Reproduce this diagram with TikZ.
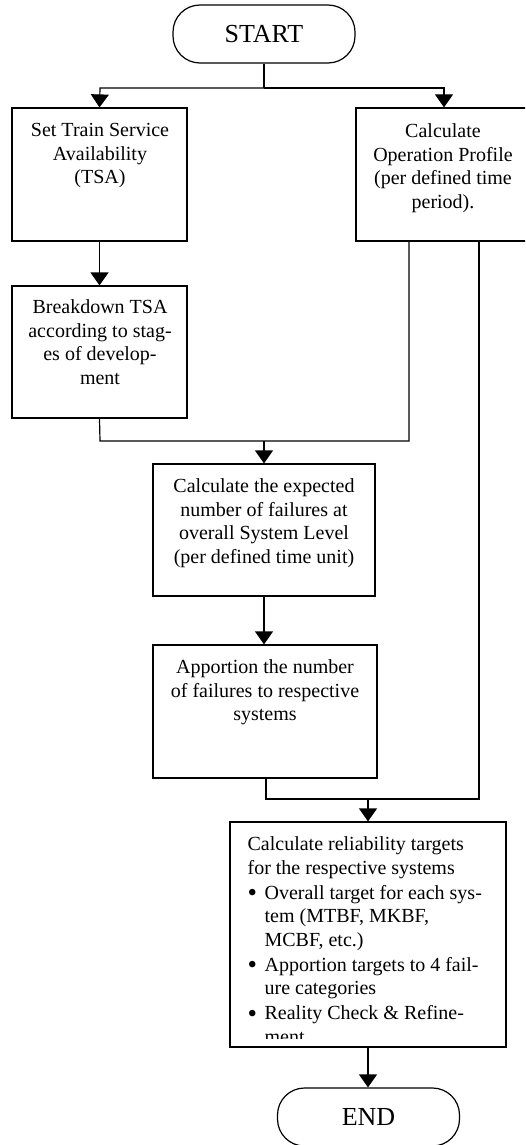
\documentclass[tikz,border=0pt]{standalone}
\usepackage{fontspec}
\setmainfont{Liberation Serif}
\usetikzlibrary{arrows.meta}
\newcommand{\mybul}{\makebox[17pt][l]{\raisebox{-2.6pt}{\scalebox{1.35}{\textbullet}}}}
\tikzset{
  every picture/.style={line width=1.2pt},
  box/.style={draw, line width=1.2pt, rectangle, inner sep=0pt},
  term/.style={draw, line width=1.2pt, rectangle, rounded corners=27pt, inner sep=0pt,
               minimum width=182pt, minimum height=58pt,
               font=\fontsize{26}{30}\selectfont},
  txt/.style={anchor=north, inner sep=0pt, align=center,
              font=\fontsize{20}{23.5}\selectfont},
  ltxt/.style={anchor=north west, inner sep=0pt, align=left,
              font=\fontsize{20}{23.5}\selectfont},
  arr/.style={-{Triangle[width=18pt,length=13pt]}, line width=1.2pt},
  conn/.style={line width=1.2pt}
}
\begin{document}
\begin{tikzpicture}[x=1pt,y=-1pt]
\useasboundingbox (0,0) rectangle (525,1145);
\clip (0,0) rectangle (525,1145);
% nodes
\node[term] (start) at (264,34) {START};
\node[box, minimum width=175pt, minimum height=133pt] (tsa) at (99.5,174.5) {};
\node[box, minimum width=174pt, minimum height=133pt] (op) at (443,174.5) {};
\node[box, minimum width=175pt, minimum height=132pt] (bd) at (99.5,352) {};
\node[box, minimum width=222pt, minimum height=132pt] (exp) at (264,530) {};
\node[box, minimum width=224pt, minimum height=133pt] (app) at (265,711.5) {};
\node[box, minimum width=276pt, minimum height=225pt] (rel) at (368,934.5) {};
\node[term] (end) at (368.5,1117) {END};
% texts
\node[txt] (tsat) at (100,119.5) {\strut Set Train Service\\Availability\\(TSA)};
\node[txt] (opt) at (443,120.5) {\strut Calculate\\Operation Profile\\(per defined time\\period).};
\node[txt] (bdt) at (100,296.5) {\strut Breakdown TSA\\according to stag-\\es of develop-\\ment};
\node[txt] (expt) at (264,475.5) {\strut Calculate the expected\\number of failures at\\overall System Level\\(per defined time unit)};
\node[txt] (appt) at (265,656.5) {\strut Apportion the number\\of failures to respective\\systems};
\begin{scope}
\clip (rel.north west) rectangle ([yshift=9pt]rel.south east);
\node[ltxt] (relt) at (247,833.5) {\strut Calculate reliability targets\\
for the respective systems\\[1.5pt]
\mybul Overall target for each sys-\\
\hspace*{17pt}tem (MTBF, MKBF,\\
\hspace*{17pt}MCBF, etc.)\\[1.5pt]
\mybul Apportion targets to 4 fail-\\
\hspace*{17pt}ure categories\\[1.5pt]
\mybul Reality Check \& Refine-\\
\hspace*{17pt}ment};
\end{scope}
% junctions
\coordinate (j1) at (264,88);
\coordinate (j1l) at (100,88);
\coordinate (j1r) at (444,88);
\coordinate (j2) at (264,441);
\coordinate (j2l) at (100,441);
\coordinate (j2r) at (409,441);
\coordinate (j3) at (368,799);
\coordinate (j3l) at (266,799);
\coordinate (j3r) at (479,799);
% connectors
\draw[conn] (start.south) -- (j1);
\draw[arr] (j1) -- (j1l) -- (tsa.north);
\draw[arr] (j1) -- (j1r) -- (j1r |- op.north);
\draw[arr] (tsa.south) -- (bd.north);
\draw[conn] (bd.south) -- (j2l) -- (j2r) -- (j2r |- op.south);
\draw[arr] (j2) -- (exp.north);
\draw[arr] (exp.south) -- (exp.south |- app.north);
\draw[conn] (j3l |- app.south) -- (j3l) -- (j3r) -- (j3r |- op.south);
\draw[arr] (j3) -- (rel.north);
\draw[arr] (rel.south) -- (rel.south |- end.north);
\end{tikzpicture}
\end{document}
